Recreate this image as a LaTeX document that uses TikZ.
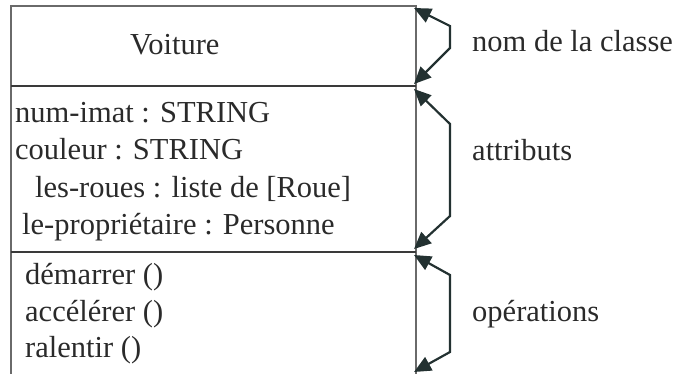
\documentclass[tikz,border=0pt]{standalone}
\usepackage{fontspec}
\setmainfont{Liberation Serif}
\usetikzlibrary{arrows.meta,calc}
\definecolor{arrcol}{HTML}{233131}
\definecolor{framecol}{HTML}{6a6a6a}
\definecolor{divcol}{HTML}{3a3a3a}
\definecolor{txtcol}{HTML}{2a2a2a}
\begin{document}
\begin{tikzpicture}[x=1pt,y=-1pt,
  txt/.style={anchor=base west,inner sep=0pt,font=\fontsize{30.5}{37}\selectfont,text=txtcol},
  frame/.style={draw=framecol,line width=1.3pt},
  divider/.style={draw=divcol,line width=2.2pt},
  arr/.style={draw=arrcol,line width=2.2pt,line join=miter,
    {Triangle[length=17pt,width=15pt]}-{Triangle[length=17pt,width=15pt]}}]
\useasboundingbox (0,0) rectangle (679,373);
\clip (0,0) rectangle (679,373);
% frame
\coordinate (tl) at (11,6);
\coordinate (tr) at (416,6);
\coordinate (bl) at (11,385);
\coordinate (br) at (416,385);
\coordinate (d1l) at (11,86);
\coordinate (d1r) at (416,86);
\coordinate (d2l) at (11,252);
\coordinate (d2r) at (416,252);
\draw[frame] (bl) -- (tl) -- (tr) -- (br);
\draw[divider] (d1l) -- (d1r);
\draw[divider] (d2l) -- (d2r);
% texts
\node[txt] (cls) at (130,54) {Voiture};
\node[txt] (a1) at (15,122) {num-imat : STRING};
\node[txt] (a2) at (15,159) {couleur : STRING};
\node[txt] (a3) at (35,197) {les-roues : liste de [Roue]};
\node[txt] (a4) at (22,234) {le-propriétaire : Personne};
\node[txt] (m1) at (25,284) {démarrer ()};
\node[txt] (m2) at (25,321) {accélérer ()};
\node[txt] (m3) at (25,357) {ralentir ()};
\node[txt] (l1) at (472,51) {nom de la classe};
\node[txt] (l2) at (472,160) {attributs};
\node[txt] (l3) at (472,321) {opérations};
% arrows
\coordinate (t1a) at (414,8);
\coordinate (b1a) at (450,26);
\coordinate (b1b) at (450,48);
\coordinate (t1b) at (414,84);
\coordinate (t2a) at (414,89);
\coordinate (b2a) at (450,124);
\coordinate (b2b) at (450,216);
\coordinate (t2b) at (414,249);
\coordinate (t3a) at (414,255);
\coordinate (b3a) at (450,275);
\coordinate (b3b) at (450,352);
\coordinate (t3b) at (414,372);
\draw[arr] (t1a) -- (b1a) -- (b1b) -- (t1b);
\draw[arr] (t2a) -- (b2a) -- (b2b) -- (t2b);
\draw[arr] (t3a) -- (b3a) -- (b3b) -- (t3b);
\end{tikzpicture}
\end{document}
